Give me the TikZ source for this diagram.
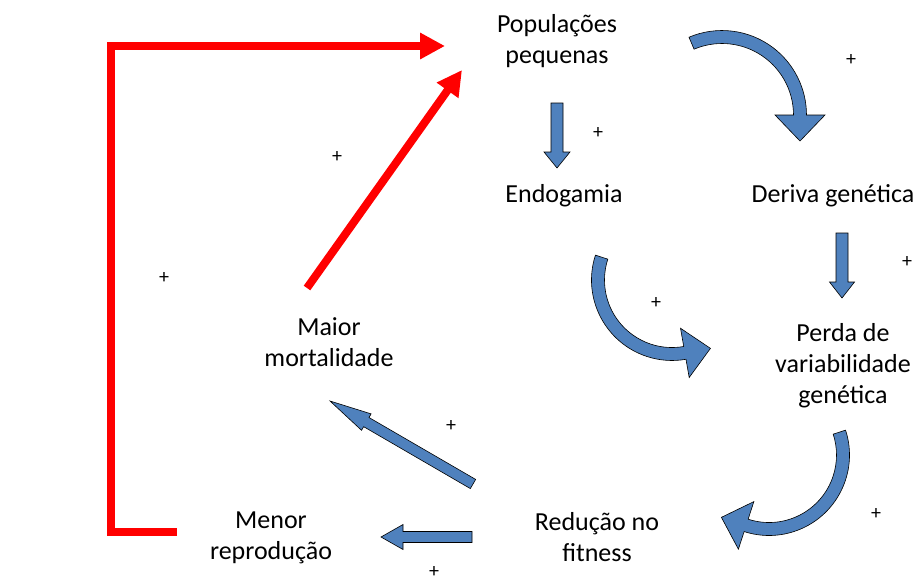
\documentclass[tikz,border=0pt]{standalone}
\usepackage{fontspec}
\setmainfont{Carlito}
\usetikzlibrary{arrows.meta,calc}
\definecolor{arrowblue}{HTML}{4F81BD}

% curved block arrow: centre, radius, tail angle, head angle, turn (1 ccw, -1 cw)
\newcommand{\bentarrow}[5]{%
  \filldraw[blockarrow, shift={#1}]
    ({#3}:{#2+6.5}) arc[start angle=#3, end angle=#4, radius=#2+6.5]
    -- ({#4}:{#2+25}) -- ({#4+#5*atan(26/#2)}:{sqrt(#2*#2+676)})
    -- ({#4}:{#2-25}) -- ({#4}:{#2-6.5})
    arc[start angle=#4, end angle=#3, radius=#2-6.5] -- cycle;}

% straight block arrow: from, to, shaft half width, head half width, head length
\newcommand{\blockline}[5]{%
  \coordinate (hb) at ($(#2)!#5!(#1)$);
  \filldraw[blockarrow] ($(#1)!#3!90:(#2)$) -- ($(hb)!#3!90:(#2)$) -- ($(hb)!#4!90:(#2)$)
    -- (#2) -- ($(hb)!#4!-90:(#2)$) -- ($(hb)!#3!-90:(#2)$) -- ($(#1)!#3!-90:(#2)$) -- cycle;}

\begin{document}
\begin{tikzpicture}[x=1pt, y=1pt,
    factor/.style={align=center, inner sep=0pt, font=\fontsize{26}{31}\selectfont},
    plussign/.style={inner sep=0pt, font=\fontsize{20}{24}\selectfont},
    blockarrow/.style={fill=arrowblue, draw=black, line width=0.6pt, line join=miter},
    redarrow/.style={draw=red, line width=8pt, line join=miter, -{Triangle[length=25pt, width=25pt]}}]
    \useasboundingbox (0,0) rectangle (916,-582);

    \node[factor] (pop) at (557,-41) {Populações\\pequenas};
    \node[factor] (endo) at (564,-196) {Endogamia};
    \node[factor] (drift) at (833,-196) {Deriva genética};
    \node[factor] (loss) at (843,-366) {Perda de\\variabilidade\\genética};
    \node[factor] (fit) at (597,-537) {Redução no\\fitness};
    \node[factor] (repro) at (271,-538) {Menor\\reprodução};
    \node[factor] (mort) at (329,-342) {Maior\\mortalidade};

    % signs of the links
    \node[plussign] (p1) at (851,-60) {+};
    \node[plussign] (p2) at (598,-133) {+};
    \node[plussign] (p3) at (337,-157) {+};
    \node[plussign] (p4) at (164,-278) {+};
    \node[plussign] (p5) at (907,-262) {+};
    \node[plussign] (p6) at (656,-303) {+};
    \node[plussign] (p7) at (451,-426) {+};
    \node[plussign] (p8) at (876,-514) {+};
    \node[plussign] (p9) at (434,-572) {+};

    % blue block arrows
    \bentarrow{(722,-115)}{78}{113}{0}{-1}
    \bentarrow{(672,-280)}{74}{162}{280}{1}
    \bentarrow{(769,-455)}{74}{18}{-108}{-1}

    \coordinate (popdown-s) at (557,-103);
    \coordinate (popdown-e) at (557,-168);
    \coordinate (driftdown-s) at (842,-233);
    \coordinate (driftdown-e) at (842,-298);
    \coordinate (fitmort-s) at (473,-484);
    \coordinate (fitmort-e) at (330,-401);
    \coordinate (fitrepro-s) at (472,-537);
    \coordinate (fitrepro-e) at (381,-537);
    \blockline{popdown-s}{popdown-e}{6pt}{13pt}{16pt}
    \blockline{driftdown-s}{driftdown-e}{6pt}{12.5pt}{16pt}
    \blockline{fitmort-s}{fitmort-e}{5.3pt}{9.5pt}{42pt}
    \blockline{fitrepro-s}{fitrepro-e}{5.5pt}{12.5pt}{22pt}

    % red feedback arrows
    \coordinate (loop-s) at (177,-532);
    \coordinate (loop-e) at (445,-46);
    \coordinate (mortpop-s) at (307,-288);
    \coordinate (mortpop-e) at (462,-70);
    \draw[redarrow] (loop-s) -- ++(-66,0) |- (loop-e);
    \draw[redarrow] (mortpop-s) -- (mortpop-e);
\end{tikzpicture}
\end{document}
